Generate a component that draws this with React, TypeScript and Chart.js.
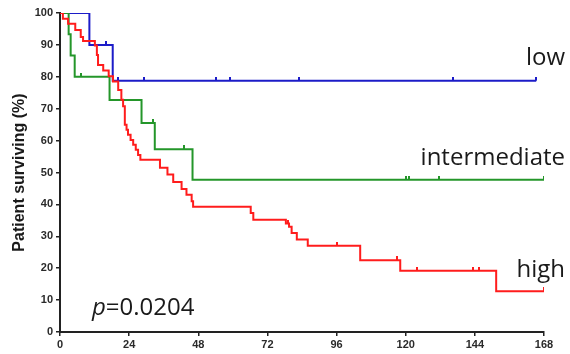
import React, { useEffect, useRef } from "react";
import { Chart, registerables } from "chart.js";

Chart.register(...registerables);

// Kaplan-Meier curves: event times (months) and survival (%)
const lowTimes = [0, 10.2, 18.3, 165.3];
const lowSurv = [100, 90, 78.8, 78.8];
const lowCensorTimes = [16.1, 20.2, 29.2, 54.1, 59.0, 83.1, 136.3, 165.3];
const lowCensorSurv = [90, 78.8, 78.8, 78.8, 78.8, 78.8, 78.8, 78.8];

const midTimes = [0, 3.0, 3.7, 5.1, 17.2, 28.3, 32.9, 46.0, 168];
const midSurv = [100, 93.3, 86.7, 80.0, 72.7, 65.5, 57.3, 47.7, 47.7];
const midCensorTimes = [7.2, 32.3, 43.1, 120.2, 121.0, 131.4, 168];
const midCensorSurv = [80, 65.5, 57.3, 47.7, 47.7, 47.7, 47.7];

const highTimes = [0, 1.0, 2.8, 5.3, 7.2, 8.0, 12.1, 12.8, 13.2, 15.0, 16.9, 18.4, 20.2, 21.3, 21.9, 22.5, 23.1, 23.6, 24.5, 25.4, 26.3, 27.1, 27.9, 34.7, 37.3, 39.3, 42.2, 43.9, 45.7, 46.2, 66.2, 67.1, 78.4, 79.5, 80.4, 82.2, 86.0, 104.2, 118.1, 151.4, 168];
const highSurv = [100, 98.2, 96.6, 94.7, 92.5, 91.2, 89.8, 86.8, 83.7, 82.0, 80.2, 78.5, 75.9, 72.8, 70.8, 65.0, 63.4, 61.8, 60.2, 58.7, 57.1, 55.5, 54.0, 51.5, 49.4, 47.0, 44.8, 43.0, 41.0, 39.3, 37.3, 35.2, 34.0, 33.0, 31.0, 29.0, 27.0, 22.5, 19.2, 12.8, 12.8];
const highCensorTimes = [79.0, 96.1, 116.9, 124.0, 143.3, 145.3, 168];
const highCensorSurv = [34.0, 27.0, 22.5, 19.2, 19.2, 19.2, 12.8];

const xTicks = [0, 24, 48, 72, 96, 120, 144, 168];
const yTicks = [0, 10, 20, 30, 40, 50, 60, 70, 80, 90, 100];

const groupLabels = ["low", "intermediate", "high"];
const pValueText = "=0.0204";

const BLUE = "#1c1cc8";
const GREEN = "#24962a";
const RED = "#ff1c1c";

const pts = (t: number[], s: number[]) => t.map((x, i) => ({ x, y: s[i] }));

// small upward tick used as censor mark
function tickImage(color: string) {
  const c = document.createElement("canvas");
  c.width = 2;
  c.height = 8;
  const g = c.getContext("2d")!;
  g.fillStyle = color;
  g.fillRect(0, 0, 2, 4);
  return c;
}

const textPlugin = {
  id: "kmText",
  afterDraw(chart: any) {
    const ctx = chart.ctx;
    ctx.save();
    ctx.fillStyle = "#1a1a1a";
    ctx.font = "24px 'Open Sans'";
    ctx.textAlign = "right";
    ctx.textBaseline = "alphabetic";
    ctx.fillText(groupLabels[0], 565, 65);
    ctx.fillText(groupLabels[1], 565, 165);
    ctx.fillText(groupLabels[2], 565, 277);
    ctx.textAlign = "left";
    ctx.font = "italic 24px 'Open Sans'";
    ctx.fillText("p", 92, 315);
    const w = ctx.measureText("p").width;
    ctx.font = "24px 'Open Sans'";
    ctx.fillText(pValueText, 92 + w, 315);
    ctx.restore();
  },
};

export default function App() {
  const ref = useRef<HTMLCanvasElement | null>(null);
  useEffect(() => {
    if (!ref.current) return;
    const censor = (t: number[], s: number[], color: string) => ({
      type: "scatter" as const,
      data: pts(t, s),
      showLine: false,
      pointStyle: tickImage(color),
      radius: 3,
      borderColor: color,
      backgroundColor: color,
      borderWidth: 0,
    });
    const curve = (t: number[], s: number[], color: string) => ({
      type: "line" as const,
      data: pts(t, s),
      stepped: "before" as const,
      borderColor: color,
      borderWidth: 2,
      pointRadius: 0,
      fill: false,
    });
    const chart = new Chart(ref.current, {
      type: "line",
      data: {
        datasets: [
          censor(highCensorTimes, highCensorSurv, RED),
          curve(highTimes, highSurv, RED),
          censor(midCensorTimes, midCensorSurv, GREEN),
          curve(midTimes, midSurv, GREEN),
          censor(lowCensorTimes, lowCensorSurv, BLUE),
          curve(lowTimes, lowSurv, BLUE),
        ] as any,
      },
      options: {
        animation: false,
        responsive: false,
        events: [],
        layout: { padding: { left: 0, top: 13, right: 26, bottom: 0 } },
        plugins: { legend: { display: false }, tooltip: { enabled: false } },
        scales: {
          x: {
            type: "linear",
            min: 0,
            max: 168,
            afterFit: (s: any) => {
              s.height = 22;
            },
            afterBuildTicks: (s: any) => {
              s.ticks = xTicks.map((v) => ({ value: v }));
            },
            ticks: {
              color: "#2a2a2a",
              font: { family: "'Liberation Sans'", size: 11, weight: "bold" },
              padding: 2,
              maxRotation: 0,
            },
            grid: { drawOnChartArea: false, drawTicks: true, tickLength: 4, color: "#222", lineWidth: 1.5 },
            border: { display: true, color: "#222", width: 2 },
          },
          y: {
            type: "linear",
            min: 0,
            max: 100,
            afterFit: (s: any) => {
              s.width = 60;
            },
            afterBuildTicks: (s: any) => {
              s.ticks = yTicks.map((v) => ({ value: v }));
            },
            title: {
              display: true,
              text: "Patient surviving (%)",
              color: "#1a1a1a",
              font: { family: "'Liberation Sans'", size: 16, weight: "bold" },
              padding: { top: 10, bottom: 0 },
            },
            ticks: {
              color: "#2a2a2a",
              font: { family: "'Liberation Sans'", size: 11, weight: "bold" },
              padding: 3,
            },
            grid: { drawOnChartArea: false, drawTicks: true, tickLength: 4, color: "#222", lineWidth: 1.5 },
            border: { display: true, color: "#222", width: 2 },
          },
        },
      } as any,
      plugins: [textPlugin],
    });
    return () => chart.destroy();
  }, []);
  return (
    <div style={{ position: "absolute", left: 0, top: 0, width: 570, height: 354, background: "#fff" }}>
      <canvas ref={ref} width={570} height={354} style={{ display: "block" }} />
    </div>
  );
}
